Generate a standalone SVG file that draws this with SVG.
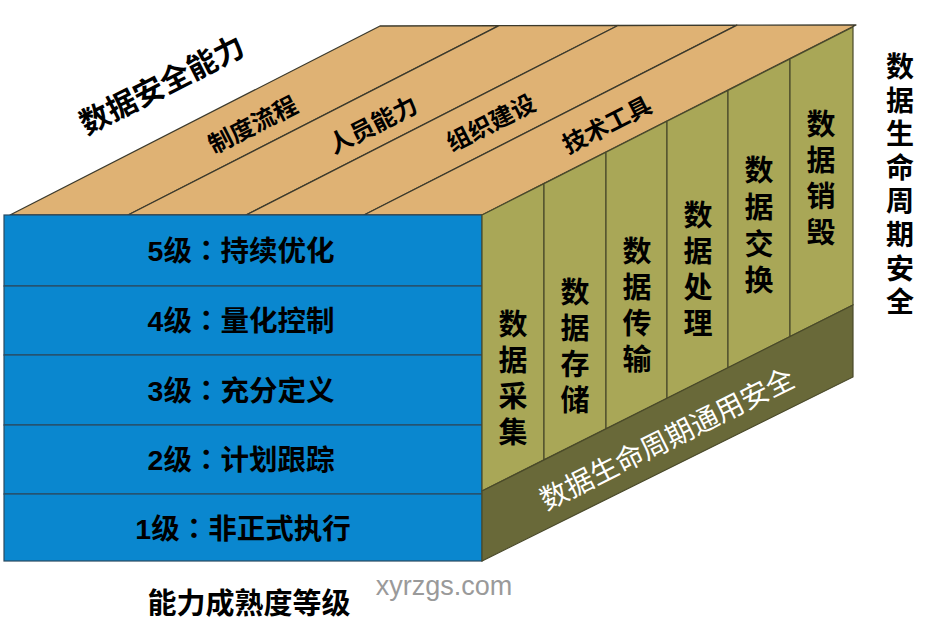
<svg xmlns="http://www.w3.org/2000/svg" width="940" height="637" viewBox="0 0 940 637">
<defs>
<style>
.top{fill:#DFB274;stroke:#3C3A2C;stroke-width:1.3;stroke-linejoin:round}
.front{fill:#0A87CF;stroke:#2B4A60;stroke-width:1.2}
.col{fill:#A9A757;stroke:#4A4A2A;stroke-width:1.2}
.band{fill:#696939;stroke:#4A4A2A;stroke-width:1.2}
.t{font-family:"Liberation Sans","Noto Sans CJK SC",sans-serif;font-weight:bold;fill:#000;text-anchor:middle}
.cj{font-family:"Noto Sans CJK SC","Liberation Sans",sans-serif;font-weight:bold;fill:#000;text-anchor:middle}
.colon{font-family:"Noto Sans CJK TC","Noto Sans CJK SC",sans-serif}
.band-t{font-family:"Noto Sans CJK SC",sans-serif;font-weight:normal;fill:#fff;text-anchor:middle}
</style>
</defs>
<rect width="940" height="637" fill="#fff"/>

<g id="top-face">
  <g id="stripe-1">
    <polygon class="top" points="10,215 128,215 499,25.7 380,26"/>
    <text class="cj" font-size="24" transform="translate(253,125) rotate(-27)" y="8.5">制度流程</text>
  </g>
  <g id="stripe-2">
    <polygon class="top" points="128,215 246,215 618,25.5 499,25.7"/>
    <text class="cj" font-size="24" transform="translate(373,125) rotate(-27)" y="8.5">人员能力</text>
  </g>
  <g id="stripe-3">
    <polygon class="top" points="246,215 364,215 737,25.2 618,25.5"/>
    <text class="cj" font-size="24" transform="translate(491,123) rotate(-27)" y="8.5">组织建设</text>
  </g>
  <g id="stripe-4">
    <polygon class="top" points="364,215 482,215 856,25 737,25.2"/>
    <text class="cj" font-size="24" transform="translate(607,125) rotate(-27)" y="8.5">技术工具</text>
  </g>
</g>

<g id="front-face">
  <g id="level-5">
    <rect class="front" x="4" y="215" width="478" height="71"/>
    <text class="t" font-size="28.5" x="241" y="261">5级<tspan class="colon">：</tspan>持续优化</text>
  </g>
  <g id="level-4">
    <rect class="front" x="4" y="286" width="478" height="69"/>
    <text class="t" font-size="28.5" x="241" y="331">4级<tspan class="colon">：</tspan>量化控制</text>
  </g>
  <g id="level-3">
    <rect class="front" x="4" y="355" width="478" height="70"/>
    <text class="t" font-size="28.5" x="241" y="401">3级<tspan class="colon">：</tspan>充分定义</text>
  </g>
  <g id="level-2">
    <rect class="front" x="4" y="425" width="478" height="69"/>
    <text class="t" font-size="28.5" x="241" y="470">2级<tspan class="colon">：</tspan>计划跟踪</text>
  </g>
  <g id="level-1">
    <rect class="front" x="4" y="494" width="478" height="67"/>
    <text class="t" font-size="28.5" x="243" y="539">1级<tspan class="colon">：</tspan>非正式执行</text>
  </g>
</g>

<g id="right-face">
  <g id="col-1">
    <polygon class="col" points="482,215 544,183.6 544,459.9 482,491"/>
    <text class="cj" font-size="29" x="513"><tspan x="513" y="335">数</tspan><tspan x="513" y="371">据</tspan><tspan x="513" y="407">采</tspan><tspan x="513" y="443">集</tspan></text>
  </g>
  <g id="col-2">
    <polygon class="col" points="544,183.6 606,152.2 606,428.8 544,459.9"/>
    <text class="cj" font-size="29" x="575"><tspan x="575" y="303">数</tspan><tspan x="575" y="339">据</tspan><tspan x="575" y="375">存</tspan><tspan x="575" y="411">储</tspan></text>
  </g>
  <g id="col-3">
    <polygon class="col" points="606,152.2 667,121.3 667,398.3 606,428.8"/>
    <text class="cj" font-size="29" x="637"><tspan x="637" y="262">数</tspan><tspan x="637" y="298">据</tspan><tspan x="637" y="334">传</tspan><tspan x="637" y="370">输</tspan></text>
  </g>
  <g id="col-4">
    <polygon class="col" points="667,121.3 728,90.4 728,367.7 667,398.3"/>
    <text class="cj" font-size="29" x="698"><tspan x="698" y="226">数</tspan><tspan x="698" y="262">据</tspan><tspan x="698" y="298">处</tspan><tspan x="698" y="334">理</tspan></text>
  </g>
  <g id="col-5">
    <polygon class="col" points="728,90.4 790,58.9 790,336.6 728,367.7"/>
    <text class="cj" font-size="29" x="759"><tspan x="759" y="181">数</tspan><tspan x="759" y="218">据</tspan><tspan x="759" y="255">交</tspan><tspan x="759" y="291">换</tspan></text>
  </g>
  <g id="col-6">
    <polygon class="col" points="790,58.9 853,27 853,305 790,336.6"/>
    <text class="cj" font-size="29" x="821"><tspan x="821" y="135">数</tspan><tspan x="821" y="171">据</tspan><tspan x="821" y="207">销</tspan><tspan x="821" y="243">毁</tspan></text>
  </g>
  <g id="band">
    <polygon class="band" points="482,491 853,305 853,377 482,561"/>
    <text class="band-t" font-size="28" transform="translate(667,439) rotate(-26.6)" y="10">数据生命周期通用安全</text>
  </g>
</g>

<g id="connectors"/>

<g id="labels">
  <text id="label-capability" class="cj" font-size="30" transform="translate(162,85) rotate(-27)" y="10.5">数据安全能力</text>
  <text id="label-lifecycle" class="cj" font-size="28"><tspan x="900" y="77">数</tspan><tspan x="900" y="110.6">据</tspan><tspan x="900" y="144.2">生</tspan><tspan x="900" y="177.8">命</tspan><tspan x="900" y="211.4">周</tspan><tspan x="900" y="245">期</tspan><tspan x="900" y="278.6">安</tspan><tspan x="900" y="312.2">全</tspan></text>
  <text id="label-maturity" class="cj" font-size="29" x="249" y="614">能力成熟度等级</text>
  <text id="label-site" font-family="Liberation Sans, Arial, sans-serif" font-size="27" fill="#9A9A9A" text-anchor="middle" x="444" y="595">xyrzgs.com</text>
</g>
</svg>
